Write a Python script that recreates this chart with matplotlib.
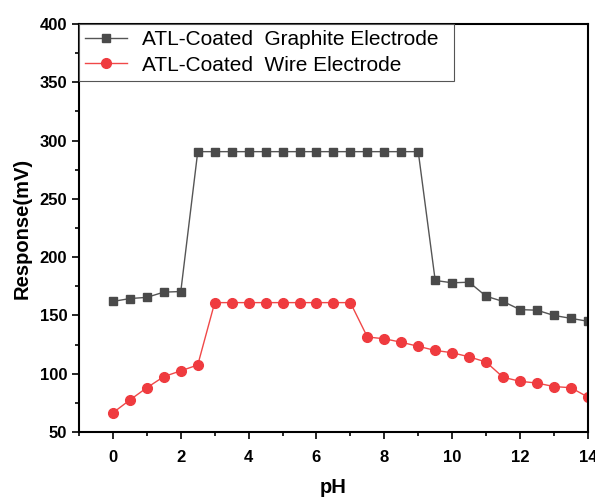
import numpy as np
import matplotlib
matplotlib.use('Agg')
import matplotlib.pyplot as plt
from matplotlib.ticker import MultipleLocator

plt.rcParams['font.family'] = ['Liberation Sans', 'DejaVu Sans']

# data
ph = [0, 0.5, 1, 1.5, 2, 2.5, 3, 3.5, 4, 4.5, 5, 5.5, 6, 6.5, 7,
      7.5, 8, 8.5, 9, 9.5, 10, 10.5, 11, 11.5, 12, 12.5, 13, 13.5, 14]
graphite = [162, 164.5, 165.5, 170, 170.5, 290.5, 290.5, 290.5, 290.5, 290.5,
            290.5, 290.5, 290.5, 290.5, 290.5, 290.5, 290.5, 290.5, 290.5,
            180, 178, 178.5, 166.5, 162, 155, 154.5, 150, 147.5, 145]
wire = [66.5, 77.5, 88, 97.5, 102.5, 107.5, 161, 161, 161, 161, 161, 161,
        161, 161, 161, 131.5, 130, 127, 123.5, 120, 118, 114.5, 110, 97,
        93.5, 92, 89, 88, 80]
labels = ['ATL-Coated  Graphite Electrode', 'ATL-Coated  Wire Electrode']

fig = plt.figure(figsize=[5.95, 4.98], dpi=100)
ax = fig.add_axes([0.1328, 0.1325, 0.8552, 0.8193])

ax.plot(ph, graphite, color='#555555', lw=1.0, marker='s', ms=6.2,
        mfc='#4a4a4a', mec='#4a4a4a', label=labels[0])
ax.plot(ph, wire, color='#f04848', lw=1.0, marker='o', ms=7,
        mfc='#ef3b3f', mec='#ef3b3f', label=labels[1])

ax.set_xlim(-1, 14)
ax.set_ylim(50, 400)
ax.xaxis.set_major_locator(MultipleLocator(2))
ax.xaxis.set_minor_locator(MultipleLocator(1))
ax.yaxis.set_major_locator(MultipleLocator(50))
ax.yaxis.set_minor_locator(MultipleLocator(25))
ax.tick_params(which='both', direction='out', top=False, right=False, width=1.2)
ax.tick_params(which='major', length=5, labelsize=12)
ax.tick_params(axis='x', which='major', pad=8)
ax.tick_params(which='minor', length=3)
for lab in ax.get_xticklabels() + ax.get_yticklabels():
    lab.set_fontweight('bold')
for sp in ax.spines.values():
    sp.set_linewidth(1.5)

ax.set_xlabel('pH', fontsize=14.5, fontweight='bold', labelpad=9)
ax.set_ylabel('Response(mV)', fontsize=14.5, fontweight='bold', labelpad=6)

leg = ax.legend(loc='upper left', bbox_to_anchor=(0, 0.8627, 0.737, 0.1373),
                mode='expand', borderaxespad=0, fontsize=15, fancybox=False,
                framealpha=1, edgecolor='#555555', handlelength=2.0,
                handletextpad=0.7, labelspacing=0.3, borderpad=0.3)
leg.get_frame().set_linewidth(0.8)

plt.savefig('out.png', dpi=100)
